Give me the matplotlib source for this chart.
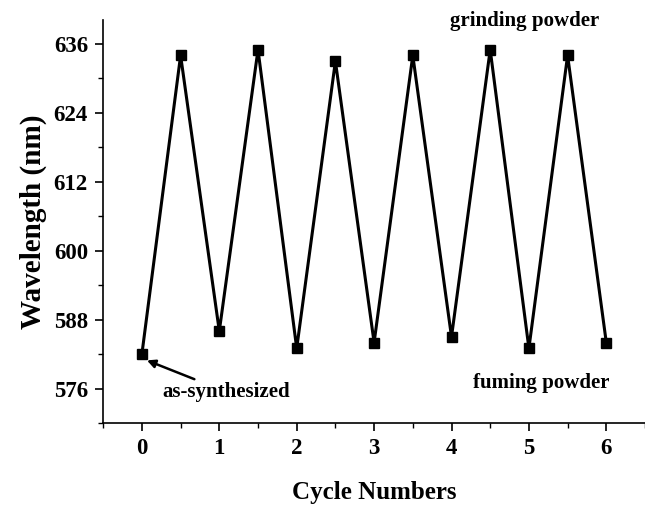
import matplotlib
matplotlib.use("Agg")
from matplotlib import pyplot as plt
from matplotlib.ticker import MultipleLocator

# cycle data: half-integer steps = grinding, integer steps = fuming
cycle = [0, 0.5, 1, 1.5, 2, 2.5, 3, 3.5, 4, 4.5, 5, 5.5, 6]
wavelength = [582, 634, 586, 635, 583, 633, 584, 634, 585, 635, 583, 634, 584]

x_ticks = [0, 1, 2, 3, 4, 5, 6]
y_ticks = [576, 588, 600, 612, 624, 636]

plt.rcParams['font.family'] = ['Liberation Serif', 'DejaVu Serif']
plt.rcParams['font.weight'] = 'bold'

fig = plt.figure(figsize=(6.45, 5.09), dpi=100)
ax = fig.add_axes([0.16, 0.169, 0.84, 0.792])

ax.plot(cycle, wavelength, color='black', linewidth=2.2, marker='s',
        markersize=7, zorder=5)

ax.set_xlim(-0.5, 6.5)
ax.set_ylim(570, 640.2)
ax.set_xticks(x_ticks)
ax.set_yticks(y_ticks)
ax.xaxis.set_minor_locator(MultipleLocator(0.5))
ax.yaxis.set_minor_locator(MultipleLocator(6))

ax.spines['top'].set_visible(False)
ax.spines['right'].set_visible(False)
ax.spines['left'].set_linewidth(1.2)
ax.spines['bottom'].set_linewidth(1.2)
ax.tick_params(which='major', direction='out', length=6, width=1.2,
               labelsize=16.5, pad=5)
ax.tick_params(which='minor', direction='out', length=3.5, width=1.0)
for lab in ax.get_xticklabels() + ax.get_yticklabels():
    lab.set_fontweight('bold')

ax.set_xlabel("Cycle Numbers", fontsize=18, fontweight='bold', labelpad=16)
ax.set_ylabel("Wavelength (nm)", fontsize=21, fontweight='bold', labelpad=5)

ax.text(4.95, 638.2, "grinding powder", fontsize=15, fontweight='bold',
        ha='center', va='bottom')
ax.text(5.16, 576.9, "fuming powder", fontsize=15, fontweight='bold',
        ha='center', va='center')
ax.annotate("as-synthesized", xy=(0.065, 580.9), xytext=(0.27, 575.4),
            fontsize=15, fontweight='bold', ha='left', va='center',
            arrowprops=dict(arrowstyle='-|>', color='black', lw=1.8,
                            mutation_scale=12, shrinkA=0, shrinkB=0))

fig.savefig("out.png", dpi=100)
